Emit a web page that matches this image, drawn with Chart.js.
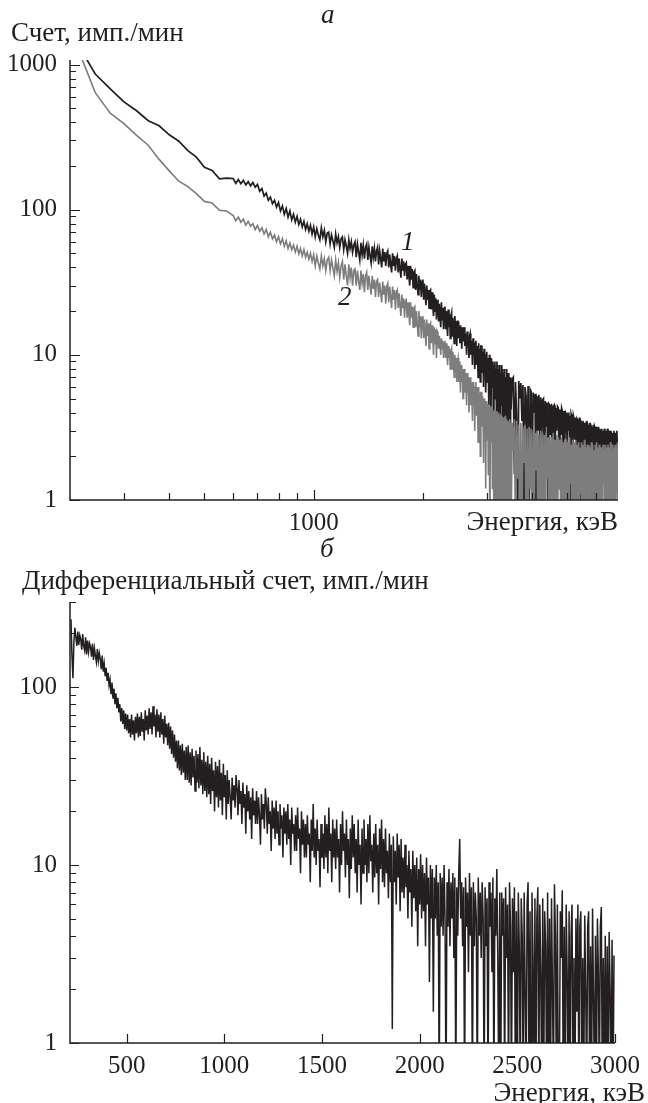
<!DOCTYPE html>
<html><head><meta charset="utf-8">
<script src="https://cdn.jsdelivr.net/npm/chart.js@4.4.1/dist/chart.umd.min.js"></script>
<style>
html,body{margin:0;padding:0;background:#fff;}
#wrap{position:relative;width:648px;height:1103px;overflow:hidden;background:#fff;font-family:'Liberation Serif','Times New Roman',serif;color:#231f20;}
canvas{position:absolute;left:0;}
.t{position:absolute;white-space:nowrap;font-size:27px;line-height:1;}
.i{font-style:italic;}
</style></head><body>
<div id="wrap">
<canvas id="c1" width="648" height="560" style="top:0px"></canvas>
<canvas id="c2" width="648" height="543" style="top:560px"></canvas>
<div class="t i" style="left:321px;top:1px;">а</div>
<div class="t" style="left:11px;top:19px;">Счет, имп./мин</div>
<div class="t i" style="left:401px;top:228px;">1</div>
<div class="t i" style="left:338px;top:283px;">2</div>
<div class="t" style="right:30px;top:508px;">Энергия, кэВ</div>
<div class="t i" style="left:320px;top:535px;">б</div>
<div class="t" style="left:22px;top:567px;">Дифференциальный счет, имп./мин</div>
<div class="t" style="right:3px;top:1079px;">Энергия, кэВ</div>
</div>
<script>
// ---------- DATA ----------
// Panel "а": channel layout (keV): 225..575 by 25, 600..3490 by 10, 3500..6900 by 25
const topChannelSegments = [
  { startKeV: 225, stepKeV: 25, count: 15 },
  { startKeV: 600, stepKeV: 10, count: 290 },
  { startKeV: 3500, stepKeV: 25, count: 137 }
];
// Spectrum 1 (black)
const curve1Counts = [
1350,860,680,552,480,410,378,328,296,255,230,196,186,163,165,
// 600..3490 keV
164,152,161,151,159,148,156,146,154,143,
149,134,140,124,130,116,122,110,116,104,
112,98,106,93,102,89,98,85,93,82,
90,79,86,76,83,73,80,71,78,68,
76,65,74,67,62,75,65,72,60,69,
70,58,67,61,55,68,59,65,55,63,
65,53,62,56,50,62,54,60,51,57,
60,47,58,51,45,59,49,57,46,55,
58,45,55,48,43,56,47,54,44,52,
55,42,52,46,40,54,44,51,41,50,
52,40,49,42,37,50,41,48,38,46,
48,37,46,39,34,46,38,44,35,42,
43,33,41,35,30,41,33,39,29,37,
38,28,36,30,26,35,28,33,25,32,
33,24,31,26,22,30,24,28,21,27.5,
28,20.5,27,22,18.5,26,20,24.5,17.5,23.5,
24,17,22.5,19,15.5,23,17.5,21,15,21,
21.5,15,20,16.5,13.5,20.5,15.5,19,13,18.5,
19.5,13.5,18,15,12,18.5,14,17,11.5,17,
17,13,15.5,12,16,14,11,15.5,12.5,14.5,
15.5,11.5,14,12.5,10,14.5,11.5,13,9.5,13.5,
14,10,12.5,11,8.5,13,10.5,12,8,12,
12.5,8.5,11.5,10,7,12,9,11,6.5,11.5,
11.5,7.5,10.5,9,6,11,8,10,5.5,10,
10.5,6.5,9.5,7.5,4.5,10,7,9,3.5,9.5,
9.5,6,9,2.5,8.5,6.5,9,5,8,4,
9,5.5,8.5,1.5,8,6,8.5,3.5,7.5,5,
8.5,4.5,8,0.5,7.5,5.5,8,2,7,4.5,
8,3,7.5,5,0.5,7.5,4.5,7,1.5,7,
// 3500..6900 keV
4.2,6.8,7,1.5,6.5,4,0.5,6.6,5,
6.4,3.5,6.2,0.8,6,5.2,2,6.1,0.5,5.8,
5.6,1.2,5.5,4,5.4,0.5,5.2,3,5.3,2.2,
5.1,2.5,4.9,5,1,4.8,3.2,4.7,0.5,4.6,
4.5,2.8,4.6,1.5,4.4,4.5,2,4.3,3,4.4,
4.3,1.2,4.2,2.8,4.3,4.1,0.5,4.1,2.6,4.0,
3.9,2.2,4.0,3.0,3.8,0.5,3.9,3.7,1.8,3.8,
3.6,2.6,3.7,1.4,3.6,3.5,2.4,3.7,0.8,3.5,
3.4,2.2,3.5,3.3,1.8,3.4,2.6,3.5,1,3.3,
3.2,2.4,3.4,1.5,3.2,3.1,2.2,3.3,0.6,3.2,
3.1,2.1,3.2,3.0,1.6,3.2,2.5,3.1,1.2,3.0,
3.1,2.3,3.0,1.8,3.1,2.9,2.2,3.0,0.9,3.1,
2.9,2.2,3.0,2.8,1.5,3.0,2.4,2.9,1.1,2.8,
3.0,2.1,2.9,1.7,2.8,3.0,2.3,2.6
];
// Spectrum 2 (grey)
const curve2Counts = [
1250,640,462,392,325,278,222,185,157,144,129,114,111,99,98,
// 600..3490 keV
91,84,89,82,86,78,83,77,80,73,
78,71,75,68,73,65,70,63,67,60,
65,58,63,56,61,54,59,53,57,51,
56,49.5,54,48,53,47,51,45.5,50,44,
49,41,48,43,39,48,41,46,38,45,
47,38,45,39.5,35,45,37.5,43,34,41,
44,33,42,35,30,42,34,40,30,38,
39,30,38,32,28,38,31,36,27,35,
37,28,35,30,26,35,28.5,33,25,32,
33,25,31.5,27,23,32,26,30,22.5,29.5,
31,23,29.5,25,21,29.5,24,28,20.5,27,
28,21,26.5,22,18.5,26,21,24.5,18,23.5,
24,18,23,19,16,23,18,21.5,15.5,21,
21.5,15.5,20,16.5,13.5,20,15.5,18.5,13,18,
18.5,13,17.5,14.5,11.5,17.5,13.5,16.5,11,16,
16.5,12,16,13,10,15.5,12,15,9.5,14.5,
14,11,13.5,12,10,13,11,12.5,9.5,12,
12.5,9.5,12,10,8.5,11.5,9.5,11,8,10.5,
11,8,10.5,8.5,7,10,8,9.5,6.5,9,
9.5,6.5,9,7.5,5.5,8.5,6.5,8,5,7.5,
8,5.5,7.5,6,4.5,7.5,5.5,7,4,6.5,
7,4.5,6.5,5,3.5,6.5,4.5,6,3,6,
6.5,3.8,6,4.5,2.5,6,4,5.5,2,5.5,
5.5,3.2,5.2,3.8,1.8,5,3.5,4.8,1.2,4.6,
4.8,2.6,4.6,1.5,4.5,3.2,0.5,4.4,2.5,4.2,
4.4,1.2,4.1,2.8,0.5,4.2,3,0.5,4,2.2,
4.1,0.5,3.9,2.5,4,0.5,3.8,1.6,3.9,0.5,
3.8,2.2,0.5,3.7,0.5,3.6,1.4,3.8,0.5,3.5,
0.5,3.6,2,3.5,0.5,3.4,0.5,3.6,1.2,3.4,
// 3500..6900 keV
0.5,3.4,2.2,3.6,0.5,3.5,1.4,3.3,0.5,
3.4,0.5,3.2,1.8,3.3,0.5,3.1,0.5,3.2,1.2,
3.1,0.5,3.0,0.5,2.9,1.6,3.0,0.5,2.8,0.5,
3.0,0.6,2.9,0.5,2.8,0.5,2.9,1.4,2.7,0.5,
2.8,0.5,2.7,0.5,2.9,0.8,2.6,0.5,2.8,0.5,
2.7,1.2,2.6,0.5,2.7,0.5,2.5,0.5,2.6,0.7,
2.6,0.5,2.5,0.5,2.7,1.3,2.4,0.5,2.6,0.5,
2.5,0.5,2.6,0.5,2.4,0.5,2.5,0.5,2.3,1.1,
2.5,0.5,2.4,0.5,2.6,0.5,2.3,1.4,2.4,0.5,
2.4,0.6,2.3,0.5,2.5,0.5,2.4,0.5,2.2,1.2,
2.4,0.5,2.5,0.5,2.3,0.9,2.4,0.5,2.3,0.5,
2.3,0.5,2.4,1.3,2.2,0.5,2.4,0.5,2.3,0.5,
2.4,0.7,2.3,0.5,2.5,0.5,2.2,0.5,2.4,1.0,
2.3,0.5,2.4,0.5,2.2,1.1,2.5,0.5
];
// Panel "б": differential spectrum, channels of 5 keV starting at 215 keV
const bottomEnergyStartKeV = 215;
const bottomEnergyStepKeV = 5;
const diffCounts = [
240,150,112,180,215,190,170,205,172,195,
185,162,198,170,160,190,152,182,158,176,
168,148,175,142,165,150,138,163,140,155,
144,126,150,122,135,115,128,108,120,102,
110,92,106,86,98,80,92,76,87,72,
80,64,76,62,74,58,71,57,70,55,
66,52,70,54,65,50,68,55,71,52,
68,53,72,56,66,50,74,57,69,54,
76,58,72,54,78,60,70,52,75,56,
70,52,72,54,66,48,69,52,62,47,
63,45,60,42,57,40,54,38,50,35,
50,34,47,32,48,33,44,30,46,30,
47,29,43,28,45,31,41,26,44,29,
42,27,46,28,39,25,43,26,38,24,
41,25,37,22,40,26,34,20,38,24,
36,21,39,23,33,19,37,24,32,18,
34,22,30,24,18,31,23,28,21,32,
27,19,30,22,26,17,29,21,25,15,
28,20,26,18,24,14,27,19,23,17,
26,17,24,19,13,25,18,22,16,27,
22,15,24,17,20,12,23,16,21,14,
23,15,20,13,22,16,19,11,21,15,
20,13,22,14,18,10,21,15,17,12,
19,12,21,14,16,9,20,13,18,11,
17,11,19,13,15,8,18,12,22,11,
16,10,18,12,14,7.5,17,11,15,9.5,
19,11,17,9,21,12,15,8,18,11,
16,9.5,18,11,14,7,17,10,20,12,
15,8.5,18,10,14,6.5,16,9.5,19,11,
17,9,14,7,18,10,13,6,16,9,
18,10,14,8,17,9,19,10.5,13,7,
15,8.5,17,9,13,6,16,9.5,18,8,
14,7.5,16,9,12,6.5,15,8,13,1.2,
14.5,8,12,6,15,8.5,13,5.5,14,7,
11,6.5,13,7.5,10,5,12,7,9.5,4.5,
12,6.5,10,5.5,11,3.5,9.5,6,11.5,5,
10,5.5,9,3.5,11,6,8.5,2.2,10,5,
9.5,1.5,8.5,5,10,4,8,0.5,9,4.5,
8.5,4,10,5,0.5,8,4.5,9.5,3.5,8,
5,9,3,8.5,0.5,7.5,4,9,14,5,
8,3.5,7.5,0.5,8.5,4.5,7,2.5,9,4,
7.5,0.5,8,3.5,7,5,0.5,8.5,4,7,
3,8,5,0.5,7.5,3.5,6.5,0.5,8,4.5,
7,2.5,8.5,0.5,6.5,4,9.5,3,0.5,7,
0.5,7,4,6.5,0.5,7.5,3,6,0.5,8,
4.5,0.5,6.5,2.5,7.5,0.5,5.5,0.5,7,3.5,
0.5,6.5,4,0.5,7,2,0.5,6,8,0.5,
5.5,0.5,7,3,0.5,6.5,0.5,5,7.5,0.5,
6,2.5,0.5,6.5,0.5,5.5,3.5,0.5,7,0.5,
5,0.5,6.5,2,0.5,7.8,4,0.5,6,0.5,
0.5,5.5,3,7.2,0.5,4.5,0.5,6,2.5,0.5,
5.5,0.5,4,6,0.5,3,0.5,5,1.5,6,
0.5,4.5,5.5,0.5,3,0.5,5.2,2,0.5,4.5,
5.5,0.5,3.5,0.5,5.7,1.8,0.5,4,0.5,5,
2.5,0.5,4.5,5.8,0.5,3,0.5,4,0.5,3.5,
0.5,4.2,2,0.5,3.8,0.5,3.1
];
// Axis ticks
const topYTickValues = [1, 10, 100, 1000];
const topYTickLabels = ['1', '10', '100', '1000'];
const topXLabelValues = [1000];
const topXLabels = ['1000'];
const topXMinorValues = [300, 400, 500, 600, 700, 800, 900, 2000, 3000, 4000, 5000, 6000];
const bottomXTickValues = [500, 1000, 1500, 2000, 2500, 3000];
const bottomXTickLabels = ['500', '1000', '1500', '2000', '2500', '3000'];
const bottomYTickValues = [1, 10, 100];
const bottomYTickLabels = ['1', '10', '100'];

// ---------- RENDER ----------
const INK = '#231f20';
const GREY = '#7d7d7d';
Chart.defaults.font.family = "'Liberation Serif','Times New Roman',serif";
Chart.defaults.color = INK;

function channelEnergies(segments) {
  const out = [];
  for (const s of segments) for (let i = 0; i < s.count; i++) out.push(s.startKeV + i * s.stepKeV);
  return out;
}
const topEnergies = channelEnergies(topChannelSegments);
const bottomEnergies = channelEnergies([{ startKeV: bottomEnergyStartKeV, stepKeV: bottomEnergyStepKeV, count: diffCounts.length }]);
function pair(energies, values) {
  return values.map((v, i) => ({ x: energies[i], y: v }));
}
function logMinors(decades, maxVal) {
  const out = [];
  for (const d of decades) for (let m = 2; m <= 9; m++) if (d * m <= maxVal) out.push(d * m);
  return out;
}

const axesPlugin = {
  id: 'inkAxes',
  afterDatasetsDraw(chart, args, opts) {
    const { ctx, chartArea: a } = chart;
    const x = chart.scales.x, y = chart.scales.y;
    ctx.save();
    ctx.strokeStyle = INK;
    ctx.lineWidth = 1.5;
    ctx.beginPath();
    ctx.moveTo(a.left, a.top);
    ctx.lineTo(a.left, a.bottom);
    ctx.lineTo(a.right, a.bottom);
    ctx.stroke();
    ctx.lineWidth = 1.2;
    ctx.beginPath();
    for (const t of opts.yTicks) {
      const p = Math.round(y.getPixelForValue(t.v)) + 0.5;
      ctx.moveTo(a.left, p); ctx.lineTo(a.left + t.len, p);
    }
    for (const t of opts.xTicks) {
      const p = Math.round(x.getPixelForValue(t.v)) + 0.5;
      ctx.moveTo(p, a.bottom); ctx.lineTo(p, a.bottom - t.len);
    }
    ctx.stroke();
    ctx.restore();
  }
};

function labelCallback(values, labels) {
  return (v) => { const i = values.indexOf(Number(v)); return i >= 0 ? labels[i] : ''; };
}

// Panel а
new Chart(document.getElementById('c1'), {
  type: 'line',
  data: {
    datasets: [
      { label: '1', data: pair(topEnergies, curve1Counts),
        borderColor: INK, borderWidth: 1.7, pointRadius: 0, tension: 0, order: 2, clip: 0 },
      { label: '2', data: pair(topEnergies, curve2Counts),
        borderColor: GREY, borderWidth: 1.6, pointRadius: 0, tension: 0, order: 1, clip: 0 }
    ]
  },
  options: {
    responsive: false, animation: false, devicePixelRatio: 1,
    layout: { padding: { top: 60, right: 30, left: 0, bottom: 0 } },
    plugins: { legend: { display: false }, tooltip: { enabled: false },
      inkAxes: {
        yTicks: topYTickValues.map(v => ({ v, len: 10 })).concat(logMinors([1, 10, 100], 1074).map(v => ({ v, len: 6 }))),
        xTicks: topXLabelValues.map(v => ({ v, len: 10 })).concat(topXMinorValues.map(v => ({ v, len: 7 })))
      } },
    scales: {
      x: { type: 'logarithmic', min: 213, max: 6900, bounds: 'data',
        grid: { display: false, drawTicks: false }, border: { display: false },
        afterBuildTicks: s => { s.ticks = topXLabelValues.map(v => ({ value: v })); },
        afterFit: s => { s.height = 60; },
        ticks: { autoSkip: false, maxRotation: 0, padding: 8, font: { size: 25 }, color: INK,
          callback: labelCallback(topXLabelValues, topXLabels) } },
      y: { type: 'logarithmic', min: 1, max: 1074, bounds: 'data',
        grid: { display: false, drawTicks: false }, border: { display: false },
        afterBuildTicks: s => { s.ticks = topYTickValues.map(v => ({ value: v })); },
        afterFit: s => { s.width = 70; },
        ticks: { autoSkip: false, padding: 13, font: { size: 25 }, color: INK,
          callback: labelCallback(topYTickValues, topYTickLabels) } }
    }
  },
  plugins: [axesPlugin]
});

// Panel б
new Chart(document.getElementById('c2'), {
  type: 'line',
  data: {
    datasets: [
      { label: 'diff', data: pair(bottomEnergies, diffCounts),
        borderColor: INK, borderWidth: 1.5, pointRadius: 0, tension: 0, clip: 0 }
    ]
  },
  options: {
    responsive: false, animation: false, devicePixelRatio: 1,
    layout: { padding: { top: 42, right: 33, left: 0, bottom: 0 } },
    plugins: { legend: { display: false }, tooltip: { enabled: false },
      inkAxes: {
        yTicks: bottomYTickValues.map(v => ({ v, len: 9 })).concat(logMinors([1, 10, 100], 300).map(v => ({ v, len: 6 }))),
        xTicks: bottomXTickValues.map(v => ({ v, len: 9 }))
      } },
    scales: {
      x: { type: 'linear', min: 210, max: 3000, bounds: 'data',
        grid: { display: false, drawTicks: false }, border: { display: false },
        afterBuildTicks: s => { s.ticks = bottomXTickValues.map(v => ({ value: v })); },
        afterFit: s => { s.height = 60; },
        ticks: { autoSkip: false, maxRotation: 0, padding: 8, font: { size: 25 }, color: INK,
          callback: labelCallback(bottomXTickValues, bottomXTickLabels) } },
      y: { type: 'logarithmic', min: 1, max: 300, bounds: 'data',
        grid: { display: false, drawTicks: false }, border: { display: false },
        afterBuildTicks: s => { s.ticks = bottomYTickValues.map(v => ({ value: v })); },
        afterFit: s => { s.width = 70; },
        ticks: { autoSkip: false, padding: 13, font: { size: 25 }, color: INK,
          callback: labelCallback(bottomYTickValues, bottomYTickLabels) } }
    }
  },
  plugins: [axesPlugin]
});
</script>
</body></html>
